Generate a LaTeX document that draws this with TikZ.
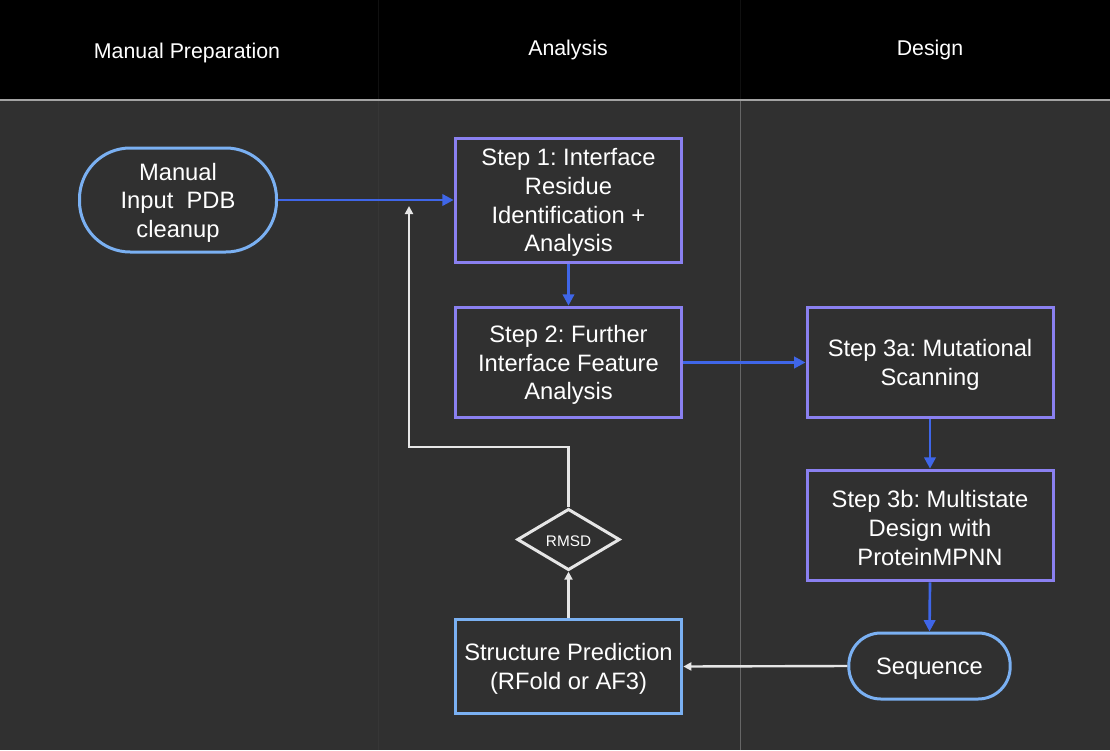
\documentclass[tikz,border=0pt]{standalone}
\usepackage{fontspec}
\setmainfont{Liberation Sans}
\frenchspacing
\usetikzlibrary{arrows.meta,shapes.geometric}
\definecolor{bg}{HTML}{303030}
\definecolor{sepc}{HTML}{666666}
\definecolor{sepfaint}{HTML}{363636}
\definecolor{hdrsep}{HTML}{101010}
\definecolor{flowblue}{HTML}{3F66E8}
\definecolor{boxpurple}{HTML}{8A80F0}
\definecolor{boxblue}{HTML}{7AB0F2}
\definecolor{fbwhite}{HTML}{E6E6E6}
\tikzset{
  box/.style={draw=boxpurple, line width=2.25pt, fill=bg, inner sep=0pt},
  bluebox/.style={box, draw=boxblue},
  txt/.style={text=white, align=center, font=\fontsize{17.8}{21.5}\selectfont, yshift=-2pt},
  flow/.style={draw=flowblue, line width=2pt, -{Triangle[length=8.5pt,width=8.5pt]}},
  back/.style={draw=fbwhite, line width=1.8pt, -{Triangle[length=6pt,width=6pt]}},
  hdr/.style={text=white, font=\fontsize{16}{19}\selectfont},
}
\begin{document}
\begin{tikzpicture}[x=0.75pt,y=-0.75pt]
\useasboundingbox (0,0) rectangle (1110,750);
\fill[bg] (0,0) rectangle (1110,750);
\fill[black] (0,0) rectangle (1110,100);
\draw[sepfaint, line width=0.75pt] (378,100) -- (378,750);
\draw[hdrsep, line width=0.75pt] (378,0) -- (378,100);
\draw[sepc, line width=0.75pt] (740,100) -- (740,750);
\draw[hdrsep, line width=0.75pt] (740,0) -- (740,100);
\draw[sepc!60!white, line width=0.9pt] (0,100) -- (1110,100);
\node[hdr] (h1) at (187,52.5) {Manual Preparation};
\node[hdr] (h2) at (568,49.5) {Analysis};
\node[hdr] (h3) at (930,49.5) {Design};

\node[bluebox, rounded corners=38pt, minimum width=147.75pt, minimum height=78pt,
  label={[txt, name=inpt]center:{Manual\\Input\ \ PDB\\cleanup}}] (inp) at (178,200) {};
\node[box, minimum width=170pt, minimum height=93pt,
  label={[txt, name=s1t]center:{Step 1: Interface\\Residue\\Identification +\\Analysis}}] (s1) at (568.5,200) {};
\node[box, minimum width=170pt, minimum height=83pt,
  label={[txt, name=s2t]center:{Step 2: Further\\Interface Feature\\Analysis}}] (s2) at (568.5,362.5) {};
\node[box, minimum width=184.5pt, minimum height=83pt,
  label={[txt, name=s3at]center:{Step 3a: Mutational\\Scanning}}] (s3a) at (930,362.5) {};
\node[box, minimum width=184.5pt, minimum height=83pt,
  label={[txt, name=s3bt]center:{Step 3b: Multistate\\Design with\\ProteinMPNN}}] (s3b) at (930,525.5) {};
\node[bluebox, rounded corners=24pt, minimum width=121pt, minimum height=49.5pt,
  label={[txt, name=seqt]center:{Sequence}}] (seq) at (929.5,666) {};
\node[bluebox, minimum width=170pt, minimum height=70pt,
  label={[txt, name=spt]center:{Structure Prediction\\(RFold or AF3)}}] (sp) at (568.5,666.5) {};
\node[diamond, draw=fbwhite, line width=2.25pt, fill=bg, inner sep=0pt, aspect=1.7,
  minimum width=77pt, minimum height=46pt,
  label={[text=white, font=\fontsize{11.5}{13}\selectfont, yshift=-1.2pt, name=rmsdt]center:{RMSD}}] (rmsd) at (568.5,539.5) {};

\coordinate (c1) at (568.5,447);
\coordinate (c2) at (409,447);
\coordinate (c3) at (409,206);

\draw[flow] (inp.east) -- (s1.west);
\draw[flow] (s1.south) -- (s2.north);
\draw[flow] (s2.east) -- (s3a.west);
\draw[flow] (s3a.south) -- (s3b.north);
\draw[flow] (s3b.south) -- (seq.north);
\draw[back] (seq.west) -- (sp.east);
\draw[back] (sp.north) -- (rmsd.south);
\draw[back] (rmsd.north) -- (c1) -- (c2) -- (c3);
\end{tikzpicture}
\end{document}
